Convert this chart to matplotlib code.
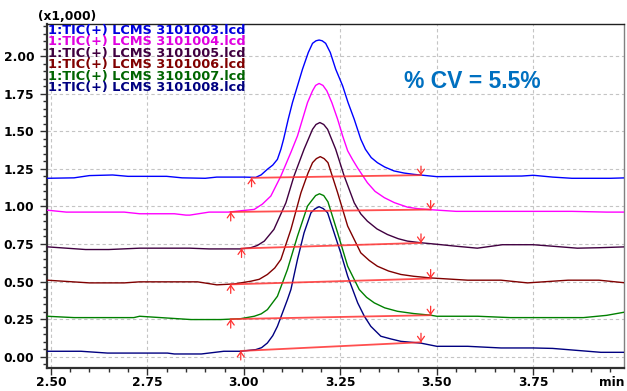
import matplotlib
matplotlib.use("Agg")
import matplotlib.pyplot as plt
from matplotlib.ticker import MultipleLocator, FixedLocator

# ---------------- data (intensity x1,000) ----------------
labels = ["1:TIC(+) LCMS 3101003.lcd", "1:TIC(+) LCMS 3101004.lcd",
          "1:TIC(+) LCMS 3101005.lcd", "1:TIC(+) LCMS 3101006.lcd",
          "1:TIC(+) LCMS 3101007.lcd", "1:TIC(+) LCMS 3101008.lcd"]
colors = ["#0000ff", "#ff00ff", "#400040", "#800000", "#008000", "#000080"]
text_colors = ["#0000dd", "#e000e0", "#400040", "#800000", "#006400", "#000080"]

x03 = [2.49, 2.56, 2.60, 2.66, 2.70, 2.80, 2.84, 2.90, 2.93, 3.00, 3.031, 3.045, 3.061, 3.075,
       3.087, 3.096, 3.103, 3.115, 3.126, 3.139, 3.152, 3.167, 3.178, 3.187, 3.195, 3.203,
       3.212, 3.224, 3.238, 3.256, 3.270, 3.286, 3.303, 3.315, 3.330, 3.346, 3.365, 3.389,
       3.415, 3.441, 3.50, 3.60, 3.72, 3.75, 3.80, 3.85, 3.95, 3.99]
y03 = [1.187, 1.190, 1.205, 1.209, 1.200, 1.200, 1.190, 1.187, 1.195, 1.195, 1.193, 1.210, 1.247, 1.275,
       1.313, 1.380, 1.447, 1.580, 1.691, 1.802, 1.913, 2.024, 2.085, 2.102, 2.107, 2.102,
       2.085, 2.024, 1.913, 1.802, 1.691, 1.580, 1.447, 1.380, 1.325, 1.291, 1.262, 1.236,
       1.222, 1.213, 1.198, 1.200, 1.202, 1.207, 1.195, 1.187, 1.187, 1.190]

x04 = [2.49, 2.54, 2.69, 2.73, 2.82, 2.85, 2.86, 2.91, 2.96, 3.00, 3.027, 3.048, 3.070, 3.096,
       3.122, 3.139, 3.152, 3.165, 3.178, 3.186, 3.195, 3.205, 3.215, 3.228, 3.243, 3.256,
       3.269, 3.282, 3.295, 3.320, 3.340, 3.364, 3.390, 3.424, 3.450, 3.484, 3.55, 3.65,
       3.75, 3.85, 3.94, 3.99]
y04 = [0.975, 0.962, 0.962, 0.951, 0.951, 0.942, 0.942, 0.962, 0.962, 0.973, 0.980, 1.015, 1.069, 1.202,
       1.360, 1.469, 1.580, 1.691, 1.769, 1.805, 1.818, 1.805, 1.769, 1.691, 1.580, 1.469,
       1.370, 1.310, 1.255, 1.158, 1.100, 1.058, 1.025, 0.995, 0.985, 0.978, 0.967, 0.967,
       0.967, 0.967, 0.962, 0.962]

x05 = [2.49, 2.59, 2.65, 2.73, 2.86, 2.91, 2.99, 3.018, 3.035, 3.053, 3.078, 3.109, 3.130, 3.156,
       3.178, 3.187, 3.197, 3.207, 3.217, 3.238, 3.260, 3.286, 3.303, 3.320, 3.345, 3.372,
       3.400, 3.424, 3.459, 3.50, 3.55, 3.605, 3.67, 3.75, 3.80, 3.864, 3.92, 3.99]
y05 = [0.731, 0.713, 0.713, 0.722, 0.722, 0.717, 0.717, 0.725, 0.740, 0.769, 0.847, 1.024, 1.202, 1.380,
       1.513, 1.545, 1.558, 1.545, 1.513, 1.380, 1.202, 1.024, 0.950, 0.902, 0.850, 0.813,
       0.785, 0.769, 0.758, 0.748, 0.735, 0.722, 0.745, 0.745, 0.735, 0.722, 0.725, 0.731]

x06 = [2.49, 2.60, 2.69, 2.73, 2.88, 2.93, 2.975, 3.018, 3.040, 3.061, 3.080, 3.096, 3.122, 3.148,
       3.166, 3.178, 3.188, 3.198, 3.208, 3.218, 3.243, 3.269, 3.303, 3.325, 3.346, 3.375,
       3.407, 3.440, 3.484, 3.58, 3.666, 3.735, 3.84, 3.92, 3.99]
y06 = [0.509, 0.491, 0.491, 0.498, 0.498, 0.478, 0.484, 0.502, 0.515, 0.547, 0.590, 0.647, 0.847, 1.091,
       1.220, 1.291, 1.318, 1.331, 1.318, 1.291, 1.091, 0.869, 0.691, 0.640, 0.602, 0.570,
       0.547, 0.535, 0.524, 0.509, 0.509, 0.491, 0.509, 0.509, 0.491]

x07 = [2.49, 2.56, 2.715, 2.73, 2.863, 2.94, 2.992, 3.027, 3.045, 3.061, 3.087, 3.113, 3.139, 3.165,
       3.175, 3.186, 3.196, 3.207, 3.218, 3.243, 3.269, 3.299, 3.318, 3.338, 3.365, 3.398,
       3.440, 3.484, 3.50, 3.606, 3.69, 3.88, 3.94, 3.99]
y07 = [0.269, 0.260, 0.260, 0.269, 0.247, 0.247, 0.253, 0.269, 0.285, 0.313, 0.402, 0.580, 0.802, 1.002,
       1.036, 1.072, 1.084, 1.072, 1.030, 0.824, 0.602, 0.447, 0.395, 0.358, 0.325, 0.302,
       0.287, 0.276, 0.269, 0.269, 0.260, 0.260, 0.275, 0.298]

x08 = [2.49, 2.578, 2.647, 2.802, 2.82, 2.89, 2.948, 2.992, 3.031, 3.046, 3.061, 3.075, 3.087, 3.113,
       3.122, 3.139, 3.156, 3.174, 3.185, 3.195, 3.206, 3.217, 3.234, 3.251, 3.269, 3.295,
       3.312, 3.329, 3.355, 3.381, 3.407, 3.459, 3.50, 3.58, 3.666, 3.75, 3.80, 3.925, 3.99]
y08 = [0.036, 0.036, 0.024, 0.024, 0.018, 0.018, 0.036, 0.036, 0.047, 0.060, 0.091, 0.140, 0.202, 0.380,
       0.447, 0.647, 0.824, 0.958, 0.985, 0.998, 0.985, 0.958, 0.824, 0.691, 0.536, 0.358,
       0.270, 0.202, 0.136, 0.118, 0.102, 0.090, 0.069, 0.069, 0.058, 0.058, 0.055, 0.029, 0.029]

traces_x = [x03, x04, x05, x06, x07, x08]
traces_y = [y03, y04, y05, y06, y07, y08]

# integration baselines: (start x, start y, end x, end y)
base_start_x = [3.020, 2.966, 2.994, 2.966, 2.966, 2.992]
base_start_y = [1.190, 0.963, 0.720, 0.481, 0.250, 0.038]
base_end_x = [3.459, 3.484, 3.459, 3.484, 3.484, 3.459]
base_end_y = [1.208, 0.979, 0.757, 0.520, 0.276, 0.096]

x_ticks = [2.50, 2.75, 3.00, 3.25, 3.50, 3.75]
y_ticks = [0.00, 0.25, 0.50, 0.75, 1.00, 1.25, 1.50, 1.75, 2.00]

# ---------------- figure ----------------
W, H = 627, 391
fig = plt.figure(figsize=(W / 100, H / 100), dpi=100)
ax = fig.add_axes([47 / W, 1 - 367.5 / H, 577 / W, 344 / H])
ax.set_xlim(2.490, 3.985)
ax.set_ylim(-0.072, 2.217)

tickfont = dict(family="DejaVu Sans", weight="bold", size=8.8)

ax.xaxis.set_major_locator(FixedLocator(x_ticks))
ax.xaxis.set_minor_locator(MultipleLocator(0.05))
ax.yaxis.set_major_locator(FixedLocator(y_ticks))
ax.yaxis.set_minor_locator(MultipleLocator(0.05))
ax.set_xticklabels(["%.2f" % v for v in x_ticks], **tickfont)
ax.set_yticklabels(["%.2f" % v for v in y_ticks], **tickfont)
ax.tick_params(axis="both", which="major", direction="out", length=5, width=1.0,
               color="#303030")
ax.tick_params(axis="both", which="minor", direction="out", length=3, width=1.0,
               color="#303030")
ax.tick_params(axis="x", which="major", pad=1.2)
ax.tick_params(axis="y", which="major", pad=4)

ax.grid(True, which="major", color="#c4c4c4", linestyle=(0, (3, 2.5)), linewidth=0.8)
ax.set_axisbelow(True)

for side in ["left", "bottom"]:
    ax.spines[side].set_linewidth(1.6)
    ax.spines[side].set_color("#303030")
ax.spines["top"].set_linewidth(1.0)
ax.spines["top"].set_color("#202020")
ax.spines["right"].set_linewidth(1.0)
ax.spines["right"].set_color("#808080")

# chromatograms
for xs, ys, c in zip(traces_x, traces_y, colors):
    ax.plot(xs, ys, color=c, linewidth=1.0, zorder=3, solid_joinstyle="round")

# integration baselines and peak start/end marks
for sx, sy, ex, ey in zip(base_start_x, base_start_y, base_end_x, base_end_y):
    ax.plot([sx, ex], [sy, ey], color="#ff3030", linewidth=1.3, alpha=0.85, zorder=4)
    ax.annotate("", xy=(sx, sy), xytext=(0, -9), textcoords="offset pixels",
                arrowprops=dict(arrowstyle="->,head_length=0.35,head_width=0.25",
                                color="#ff3030", lw=0.9, shrinkA=0, shrinkB=0), zorder=5)
    ax.annotate("", xy=(ex, ey), xytext=(0, 9), textcoords="offset pixels",
                arrowprops=dict(arrowstyle="->,head_length=0.35,head_width=0.25",
                                color="#ff3030", lw=0.9, shrinkA=0, shrinkB=0), zorder=5)

# file labels, stacked tightly as in the instrument printout
line_y = [30.5, 41.9, 53.3, 64.7, 76.1, 87.5]
for lab, c, py in zip(labels, text_colors, line_y):
    fig.text(48 / W, 1 - py / H, lab, color=c, ha="left", va="center",
             family="DejaVu Sans", weight="bold", size=9.3, zorder=6)

fig.text(38 / W, 1 - 17 / H, "(x1,000)", ha="left", va="center", **tickfont)
fig.text(625 / W, 1 - 383 / H, "min", ha="right", va="center", **tickfont)

fig.text(472 / W, 1 - 82 / H, "% CV = 5.5%", color="#0070c0", ha="center", va="center",
         family="Liberation Sans", weight="bold", size=16.5)

fig.savefig("out.png", dpi=100)
